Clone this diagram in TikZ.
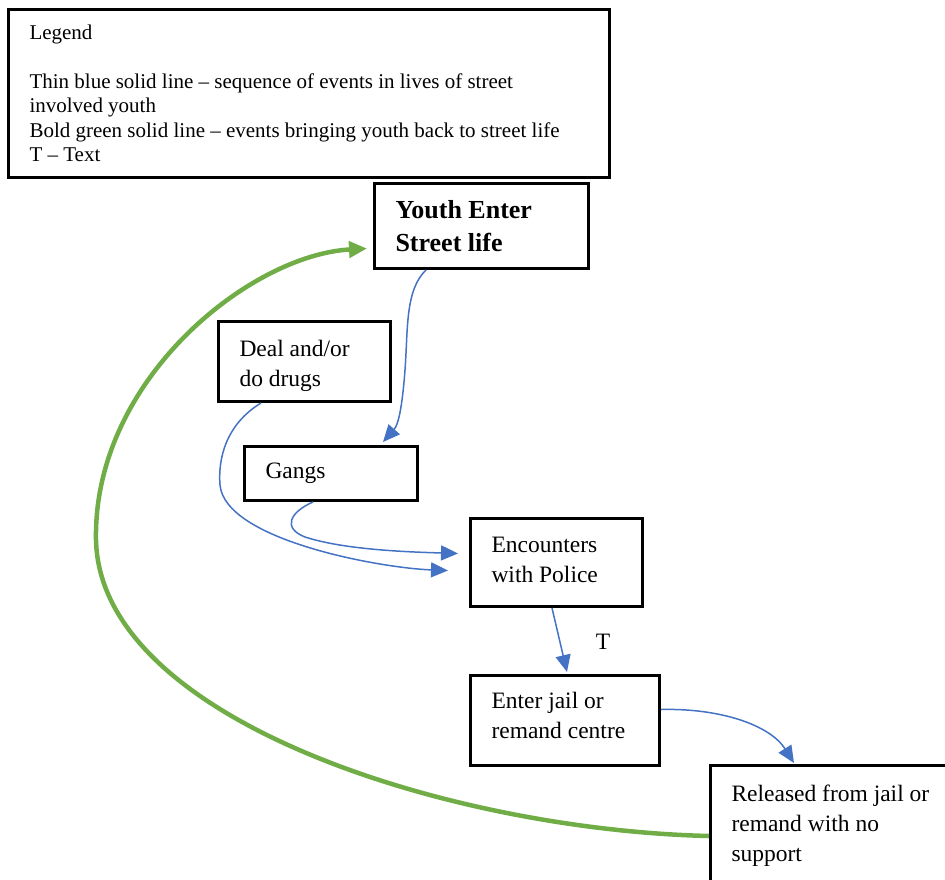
\documentclass[tikz,border=0pt]{standalone}
\usepackage{fontspec}
\setmainfont{Liberation Serif}
\usetikzlibrary{arrows.meta}
\definecolor{flowblue}{HTML}{4472C4}
\definecolor{loopgreen}{HTML}{70AD47}
\begin{document}
\begin{tikzpicture}[x=1pt,y=-1pt,
  box/.style={draw=black, line width=3pt, anchor=north west, inner xsep=21pt,
    inner ysep=0pt, align=flush left, font=\fontsize{23.5}{30}\selectfont},
  flow/.style={draw=flowblue, line width=1.5pt, -{Triangle[length=17pt,width=15pt]}},
  back/.style={draw=loopgreen, line width=4.5pt, -{Triangle[length=18pt,width=16pt]}}]
\path[use as bounding box] (0,0) rectangle (945,880);
\clip (0,0) rectangle (945,880);

% legend
\node[box, font=\fontsize{21}{24.5}\selectfont, text width=559pt,
  minimum width=601pt, minimum height=168pt] (legend) at (7,8)
  {Legend\\[24.5pt]Thin blue solid line -- sequence of events in lives of street\\
   involved youth\\Bold green solid line -- events bringing youth back to street life\\
   T -- Text};

% stages
\node[box, font=\fontsize{26}{33}\selectfont\bfseries, text width=172pt,
  minimum width=214pt, minimum height=85pt, text height=35pt, text depth=50pt] (youth)
  at (373,182) {Youth Enter\\Street life};
\node[box, text width=130pt, minimum width=172pt, minimum height=80pt,
  text height=34.5pt, text depth=45.5pt] (deal) at (217,320)
  {Deal and/or\\do drugs};
\node[box, text width=131pt, minimum width=173pt, minimum height=54pt] (gangs) at (243,445)
  {Gangs};
\node[box, text width=130pt, minimum width=172pt, minimum height=88pt,
  text height=33.8pt, text depth=54.2pt] (enc) at (469,517)
  {Encounters\\with Police};
\node[box, text width=147pt, minimum width=189pt, minimum height=90pt,
  text height=33pt, text depth=57pt] (jail) at (469,674)
  {Enter jail or\\remand centre};
\node[box, text width=210pt, minimum width=252pt, inner ysep=19pt, text depth=120pt] (rel)
  at (709,764) {Released from jail or\\remand with no\\support};

\node[font=\fontsize{23.5}{30}\selectfont] (tlabel) at (603,642) {T};

% sequence of events
\draw[flow] ([xshift=53pt]youth.south west) .. controls (405,290) and (408,330) .. (405,370)
  .. controls (402,410) and (398,425) .. ([xshift=140pt,yshift=3pt]gangs.north west);
\draw[flow] ([xshift=44pt]deal.south west) .. controls (225,425) and (218,460) .. (220,485)
  .. controls (225,540) and (380,568) .. ([xshift=-21pt,yshift=-8pt]enc.west);
\draw[flow] ([xshift=70pt]gangs.south west) .. controls (290,512) and (282,528) .. (305,537)
  .. controls (345,550) and (410,552) .. ([xshift=-11pt,yshift=9pt]enc.west);
\draw[flow] ([xshift=83pt]enc.south west) -- ([xshift=98pt,yshift=2pt]jail.north west);
\draw[flow] ([yshift=11pt]jail.east) .. controls (720,708) and (770,725)
  .. ([xshift=85pt,yshift=1pt]rel.north west);

% return to street life
\draw[back] ([yshift=-72pt]rel.north west) .. controls (450,830) and (100,720) .. (96,540)
  .. controls (93,380) and (250,255) .. ([xshift=-6pt,yshift=-22.5pt]youth.west);
\end{tikzpicture}
\end{document}
